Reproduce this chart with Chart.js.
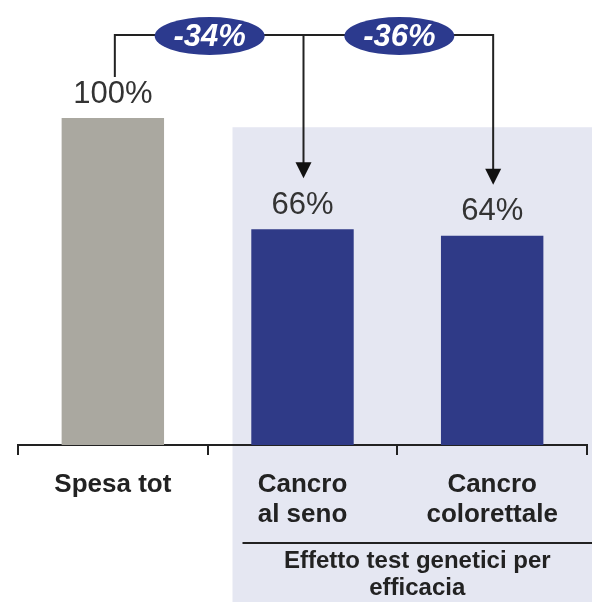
<!DOCTYPE html>
<html>
<head>
<meta charset="utf-8">
<script src="https://cdn.jsdelivr.net/npm/chart.js@4.4.1/dist/chart.umd.min.js"></script>
<style>
html,body{margin:0;padding:0;background:#fff;}
canvas{display:block;}
</style>
</head>
<body>
<canvas id="c" width="592" height="602"></canvas>
<script>
const categories = ['Spesa tot', ['Cancro', 'al seno'], ['Cancro', 'colorettale']];
const values = [100, 66, 64];
const valueLabels = ['100%', '66%', '64%'];
const changeLabels = ['-34%', '-36%'];
const groupLabel = ['Effetto test genetici per', 'efficacia'];
const barColors = ['#aaa8a0', '#2f3a87', '#2f3a87'];

const LABEL_FONT = "'Liberation Sans', Arial, sans-serif";
const VALUE_FONT = "'Liberation Sans', Arial, sans-serif";

const bgPlugin = {
  id: 'bg',
  beforeDraw(chart) {
    const ctx = chart.ctx;
    const x = chart.scales.x;
    const yS = chart.scales.y;
    const left = x.getPixelForValue(1) - 70;
    const top = yS.getPixelForValue(97.2);
    ctx.save();
    ctx.fillStyle = '#e5e7f2';
    ctx.fillRect(left, top, chart.width - left, chart.height - top);
    ctx.restore();
  }
};

const annoPlugin = {
  id: 'anno',
  afterDraw(chart) {
    const ctx = chart.ctx;
    const meta = chart.getDatasetMeta(0);
    const x = chart.scales.x;
    ctx.save();
    // value labels
    ctx.fillStyle = '#333';
    ctx.font = "31px " + VALUE_FONT;
    ctx.textAlign = 'center';
    ctx.textBaseline = 'middle';
    meta.data.forEach((bar, i) => {
      ctx.fillText(valueLabels[i], bar.x, bar.y - 24);
    });
    // bracket
    const lineY = 35;
    const cx = meta.data.map(b => b.x);
    ctx.strokeStyle = '#222';
    ctx.lineWidth = 2;
    ctx.beginPath();
    ctx.moveTo(cx[0] + 2, meta.data[0].y - 41);
    ctx.lineTo(cx[0] + 2, lineY);
    ctx.lineTo(cx[2] + 1, lineY);
    ctx.lineTo(cx[2] + 1, meta.data[2].y - 60);
    ctx.moveTo(cx[1] + 1, lineY);
    ctx.lineTo(cx[1] + 1, meta.data[1].y - 60);
    ctx.stroke();
    // arrowheads
    ctx.fillStyle = '#111';
    [1, 2].forEach(i => {
      const ax = cx[i] + 1, tip = meta.data[i].y - 51;
      ctx.beginPath();
      ctx.moveTo(ax - 8, tip - 16);
      ctx.lineTo(ax + 8, tip - 16);
      ctx.lineTo(ax, tip);
      ctx.closePath();
      ctx.fill();
    });
    // ellipses
    [0, 1].forEach(i => {
      const ex = (cx[i] + cx[i + 1]) / 2 + 2;
      ctx.fillStyle = '#2c3a8e';
      ctx.beginPath();
      ctx.ellipse(ex, lineY + 1, 55, 19, 0, 0, Math.PI * 2);
      ctx.fill();
      ctx.fillStyle = '#fff';
      ctx.font = "italic bold 31px " + VALUE_FONT;
      ctx.textAlign = 'center';
      ctx.textBaseline = 'middle';
      ctx.fillText(changeLabels[i], ex, lineY + 2);
    });
    // group divider and label
    const dl = x.getPixelForValue(1) - 60;
    const dy = 543;
    ctx.strokeStyle = '#222';
    ctx.lineWidth = 2;
    ctx.beginPath();
    ctx.moveTo(dl, dy);
    ctx.lineTo(chart.width, dy);
    ctx.stroke();
    ctx.fillStyle = '#222';
    ctx.font = "bold 24px " + LABEL_FONT;
    ctx.textBaseline = 'alphabetic';
    const gx = (dl + chart.width) / 2;
    ctx.fillText(groupLabel[0], gx, 568);
    ctx.fillText(groupLabel[1], gx, 595);
    ctx.restore();
  }
};

new Chart(document.getElementById('c'), {
  type: 'bar',
  data: {
    labels: categories,
    datasets: [{
      data: values,
      backgroundColor: barColors,
      borderWidth: 0,
      categoryPercentage: 1,
      barPercentage: 0.54
    }]
  },
  options: {
    responsive: false,
    animation: false,
    events: [],
    layout: { padding: { top: 20, left: 18, right: 5, bottom: 0 } },
    plugins: { legend: { display: false }, tooltip: { enabled: false } },
    scales: {
      y: { display: false, min: 0, max: 130 },
      x: {
        offset: true,
        border: { display: true, color: '#222', width: 2 },
        grid: { display: true, drawOnChartArea: false, drawTicks: true, tickLength: 10, color: '#222', lineWidth: 2, offset: true },
        ticks: {
          color: '#222',
          padding: 15,
          font: { family: LABEL_FONT, size: 26, weight: 'bold', lineHeight: 1.15 },
          maxRotation: 0,
          autoSkip: false
        },
        afterFit(scale) { scale.height = 157; }
      }
    }
  },
  plugins: [bgPlugin, annoPlugin]
});
</script>
</body>
</html>
